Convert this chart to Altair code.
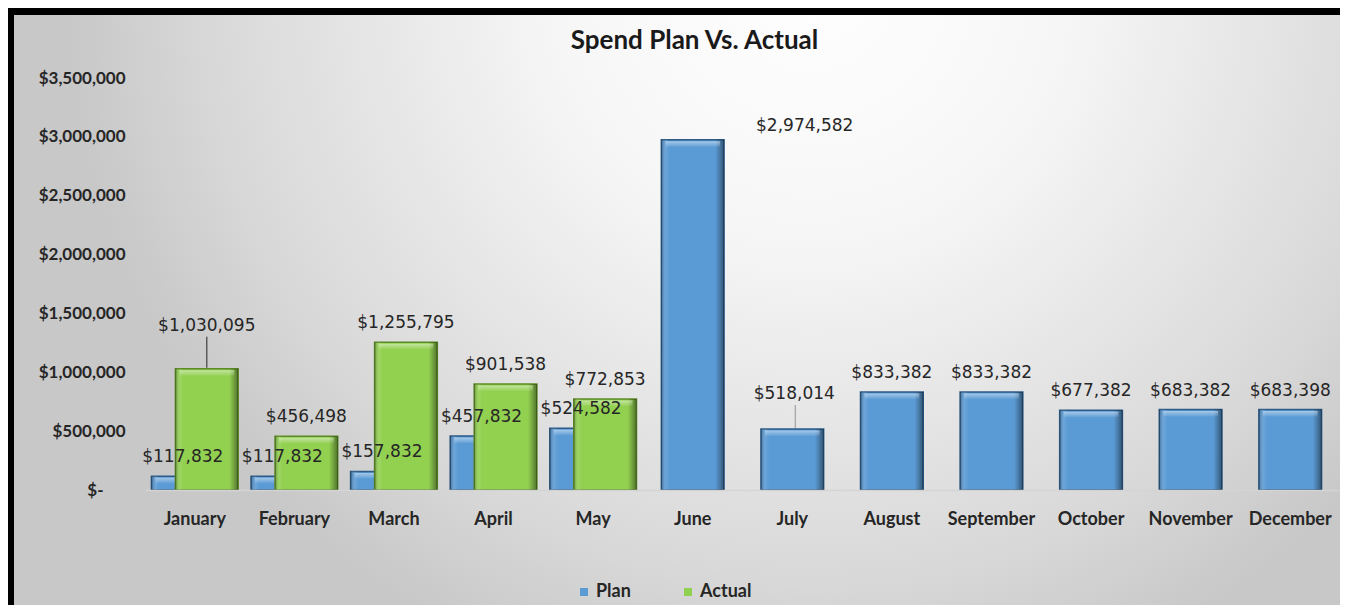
import altair as alt
import pandas as pd

# ---------------- data ----------------
months = ["January", "February", "March", "April", "May", "June", "July",
          "August", "September", "October", "November", "December"]
plan = [117832, 117832, 157832, 457832, 524582, 2974582, 518014,
        833382, 833382, 677382, 683382, 683398]
actual = [1030095, 456498, 1255795, 901538, 772853,
          None, None, None, None, None, None, None]
series = ["Plan", "Actual"]
y_ticks = [0, 500000, 1000000, 1500000, 2000000, 2500000, 3000000, 3500000]

fill_colors = ["#5b9bd5", "#92d050"]
edge_colors = ["#2d5b86", "#5c8a27"]

rows = []
for m, p, a in zip(months, plan, actual):
    paired = a is not None
    rows.append({"Month": m, "Series": "Plan", "Value": p, "Paired": paired})
    if paired:
        rows.append({"Month": m, "Series": "Actual", "Value": a, "Paired": True})
df = pd.DataFrame(rows)

# ---------------- layout ----------------
W, H = 1195, 412
PAD = {"left": 137, "top": 70, "right": 0, "bottom": 115}
LBL_FONT = "DejaVu Sans"
AX_FONT = "Lato"
TXT = "#262626"

x_enc = alt.X(
    "Month:N", sort=months,
    scale=alt.Scale(domain=months, paddingInner=0, paddingOuter=0),
    axis=alt.Axis(title=None, labelAngle=0, labelFont=AX_FONT, labelFontWeight="bold",
                  labelFontSize=18, labelColor=TXT, ticks=False, tickSize=0,
                  domain=True, domainColor="#d4d4d4", domainWidth=1.5, labelPadding=20,
                  zindex=1),
)
y_enc = alt.Y(
    "Value:Q",
    scale=alt.Scale(domain=[0, 3500000], nice=False),
    axis=alt.Axis(title=None, values=y_ticks, grid=False, ticks=False, domain=False,
                  labelExpr="datum.value == 0 ? '$-' : format(datum.value, '$,')",
                  labelFont=AX_FONT, labelFontWeight="bold", labelFontSize=17,
                  labelColor=TXT, labelPadding={"expr": "datum.value == 0 ? 42 : 20"},
                  zindex=1),
)
color_enc = alt.Color(
    "Series:N",
    scale=alt.Scale(domain=series, range=fill_colors),
    legend=alt.Legend(title=None, orient="none", legendX=430, legendY=505,
                      direction="horizontal", symbolType="square", symbolSize=64,
                      symbolStrokeWidth=0, labelFont=AX_FONT, labelFontWeight="bold",
                      labelFontSize=18, labelColor=TXT, columnPadding=48, labelOffset=3),
)
stroke_enc = alt.Stroke("Series:N", scale=alt.Scale(domain=series, range=edge_colors), legend=None)

base = alt.Chart(df).encode(x=x_enc, y=y_enc)

# background panel with a radial gradient
bg_grad = alt.RadialGradient(
    gradient="radial",
    stops=[alt.GradientStop(offset=0, color="#ffffff"),
           alt.GradientStop(offset=0.35, color="#f6f6f6"),
           alt.GradientStop(offset=0.8, color="#d9d9d9"),
           alt.GradientStop(offset=1, color="#c8c8c8")],
    x1=0.6, y1=0.25, r1=0, x2=0.6, y2=0.25, r2=0.56,
)
background = alt.Chart(alt.Data(values=[{"k": 1}])).mark_rect(fill=bg_grad).encode(
    x=alt.value(-131), x2=alt.value(W), y=alt.value(-63), y2=alt.value(H + PAD["bottom"])
)

# bevel-like shading drawn over each bar
shade_grad = alt.LinearGradient(
    gradient="linear", x1=0, y1=0, x2=1, y2=0,
    stops=[alt.GradientStop(offset=0, color="rgba(0,0,0,0.30)"),
           alt.GradientStop(offset=0.07, color="rgba(255,255,255,0.10)"),
           alt.GradientStop(offset=0.13, color="rgba(255,255,255,0)"),
           alt.GradientStop(offset=0.86, color="rgba(0,0,0,0)"),
           alt.GradientStop(offset=0.92, color="rgba(0,0,0,0.18)"),
           alt.GradientStop(offset=1, color="rgba(0,0,0,0.45)")],
)
top_grad = alt.LinearGradient(
    gradient="linear", x1=0, y1=0, x2=0, y2=1,
    stops=[alt.GradientStop(offset=0, color="rgba(255,255,255,0.45)"),
           alt.GradientStop(offset=1, color="rgba(255,255,255,0.05)")],
)

BAR_W = alt.RelativeBandSize(0.63)


def bars(expr, x_off):
    sub = base.transform_filter(expr)
    solid = sub.mark_bar(xOffset=x_off, width=BAR_W, strokeWidth=1.5).encode(
        color=color_enc, stroke=stroke_enc)
    shade = sub.mark_bar(xOffset=x_off, width=BAR_W, fill=shade_grad, strokeWidth=0)
    top = sub.mark_bar(xOffset=x_off, width=alt.RelativeBandSize(0.55), fill=top_grad,
                       strokeWidth=0, yOffset=1.5, y2Offset=7).encode(y2="Value:Q")
    return [solid, shade, top]


bar_layers = (bars("datum.Series == 'Plan' && datum.Paired", -12)
              + bars("datum.Series == 'Plan' && !datum.Paired", 0)
              + bars("datum.Series == 'Actual'", 12))

txt_kw = dict(font=LBL_FONT, fontSize=17, color=TXT, baseline="middle")
text_enc = alt.Text("Value:Q", format="$,")

lbl_plan_paired = base.transform_filter("datum.Series == 'Plan' && datum.Paired").mark_text(
    dx=-12, dy=-19, **txt_kw).encode(text=text_enc)
lbl_plan_single = base.transform_filter(
    "datum.Series == 'Plan' && !datum.Paired && datum.Month != 'June' && datum.Month != 'July'"
).mark_text(dy=-19, **txt_kw).encode(text=text_enc)
lbl_june = base.transform_filter("datum.Series == 'Plan' && datum.Month == 'June'").mark_text(
    dx=112, dy=-14, **txt_kw).encode(text=text_enc)
lbl_july = base.transform_filter("datum.Series == 'Plan' && datum.Month == 'July'").mark_text(
    dx=2, dy=-35, **txt_kw).encode(text=text_enc)
lbl_actual = base.transform_filter("datum.Series == 'Actual' && datum.Month != 'January'").mark_text(
    dx=12, dy=-19, **txt_kw).encode(text=text_enc)
lbl_jan = base.transform_filter("datum.Series == 'Actual' && datum.Month == 'January'").mark_text(
    dx=12, dy=-43, **txt_kw).encode(text=text_enc)

lead_jan = base.transform_filter("datum.Series == 'Actual' && datum.Month == 'January'").mark_rule(
    xOffset=12, yOffset=-32, y2Offset=-1, color="#404040", strokeWidth=1.2).encode(y2="Value:Q")
lead_july = base.transform_filter("datum.Series == 'Plan' && datum.Month == 'July'").mark_rule(
    xOffset=3, yOffset=-24, y2Offset=-1, color="#a0a0a0", strokeWidth=1.2).encode(y2="Value:Q")

chart = alt.layer(
    background, *bar_layers,
    lead_jan, lead_july,
    lbl_plan_paired, lbl_plan_single, lbl_june, lbl_july, lbl_actual, lbl_jan,
).properties(
    width=W, height=H,
    padding=PAD,
    autosize=alt.AutoSizeParams(type="none"),
    background="#000000",
    title=alt.TitleParams("Spend Plan Vs. Actual", font=AX_FONT, fontSize=26,
                          fontWeight="bold", color="#1a1a1a", anchor="middle",
                          frame="group", dx=-48, offset=-39, zindex=1),
).configure_view(stroke=None)

chart.save("out.html", embed_options={"renderer": "svg", "actions": False})
